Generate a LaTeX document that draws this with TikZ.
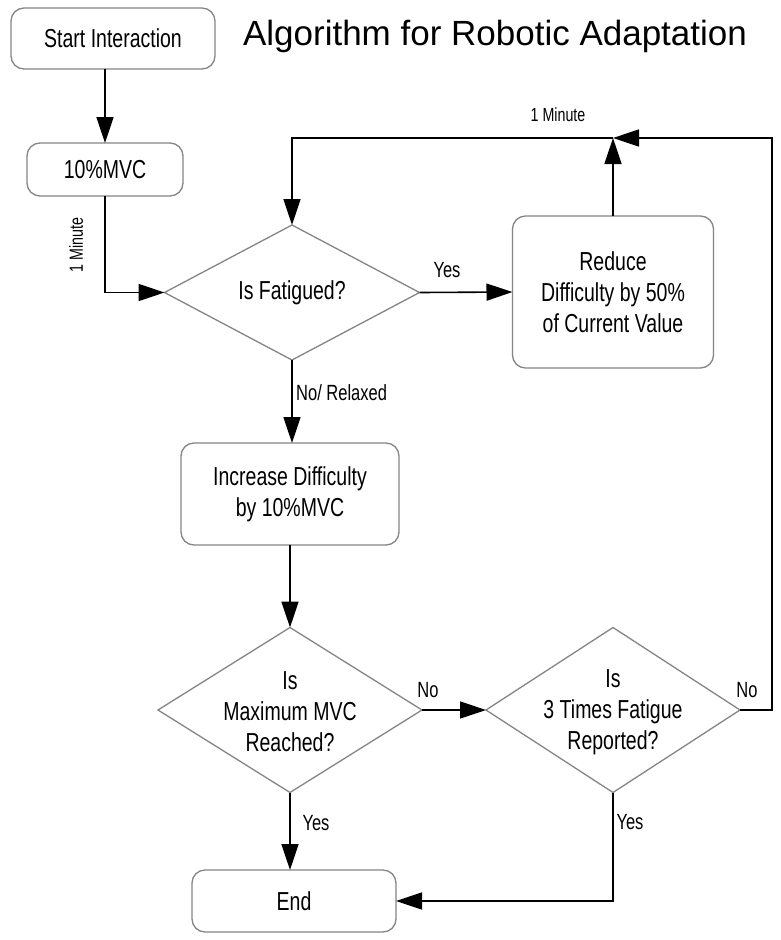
\documentclass[tikz,border=0pt]{standalone}
\usepackage{fontspec}
\setmainfont[FakeStretch=0.75]{Liberation Sans}
\newfontfamily\titlefont{Liberation Sans}
\usetikzlibrary{shapes.geometric,arrows.meta}
\begin{document}
\begin{tikzpicture}[x=1pt,y=-1pt,
  box/.style={draw=black!48, line width=1.3pt, rounded corners=13pt, fill=white, inner sep=0pt, outer sep=0pt, align=center, font=\fontsize{26}{31}\selectfont},
  dia/.style={draw=black!48, line width=1.3pt, shape=diamond, inner sep=0pt, outer sep=0pt, fill=white},
  txt/.style={align=center, inner sep=0pt, font=\fontsize{26}{31}\selectfont},
  lbl/.style={inner sep=0pt, font=\fontsize{22}{24}\selectfont},
  small/.style={inner sep=0pt, font=\fontsize{19}{21}\selectfont},
  arr/.style={line width=1.6pt, -{Triangle[length=26pt,width=17pt]}},
  ln/.style={line width=1.6pt}]
\useasboundingbox (0,0) rectangle (781,940);
\fill[white] (0,0) rectangle (781,940);

% title
\node[inner sep=0pt, anchor=base, font=\titlefont\fontsize{35}{40}\selectfont] (title) at (495,45) {Algorithm for Robotic Adaptation};

% boxes
\node[box, minimum width=204pt, minimum height=61pt] (start) at (113,38.5) {Start Interaction};
\node[box, minimum width=156pt, minimum height=53pt] (mvc) at (105,169.5) {10\%MVC};
\node[dia, minimum width=255pt, minimum height=135pt] (fat) at (292,292.5) {};
\node[txt] (fatt) at (fat) {Is Fatigued?};
\node[box, minimum width=201pt, minimum height=152pt] (red) at (613,292) {Reduce\\Difficulty by 50\%\\of Current Value};
\node[box, minimum width=218pt, minimum height=102pt] (inc) at (290,494) {Increase Difficulty\\by 10\%MVC};
\node[dia, minimum width=264pt, minimum height=165pt] (max) at (290,710) {};
\node[txt] (maxt) at (290,712) {Is\\Maximum MVC\\Reached?};
\node[dia, minimum width=254pt, minimum height=165pt] (t3) at (613,710) {};
\node[txt] (t3t) at (613,712) {Is\\3 Times Fatigue\\Reported?};
\node[box, minimum width=204pt, minimum height=62pt] (end) at (294,901) {End};

\coordinate (j) at (613,138);
\coordinate (rc) at (772,138);

% connectors
\draw[arr] (start.south -| mvc.north) -- (mvc.north);
\draw[arr] (mvc.south) |- (fat.west);
\draw[arr] (fat.east) -- (red.west);
\draw[arr] (red.north) -- (j);
\draw[arr] (t3.east) -| (rc) -- (j);
\draw[arr] (j) -| (fat.north);
\draw[arr] (fat.south) -- (fat.south |- inc.north);
\draw[arr] (inc.south -| max.north) -- (max.north);
\draw[arr] (max.east) -- (t3.west);
\draw[arr] (max.south) -- (max.south |- end.north);
\draw[arr] (t3.south) |- (end.east);

% labels
\node[small, rotate=90] (l1) at (76,245) {1 Minute};
\node[small] (l2) at (558,115) {1 Minute};
\node[lbl] (l3) at (447,270) {Yes};
\node[lbl, anchor=west] (l4) at (296,393) {No/ Relaxed};
\node[lbl] (l5) at (428,690) {No};
\node[lbl] (l6) at (747,690) {No};
\node[lbl] (l7) at (316,823) {Yes};
\node[lbl] (l8) at (630,822) {Yes};
\end{tikzpicture}
\end{document}
